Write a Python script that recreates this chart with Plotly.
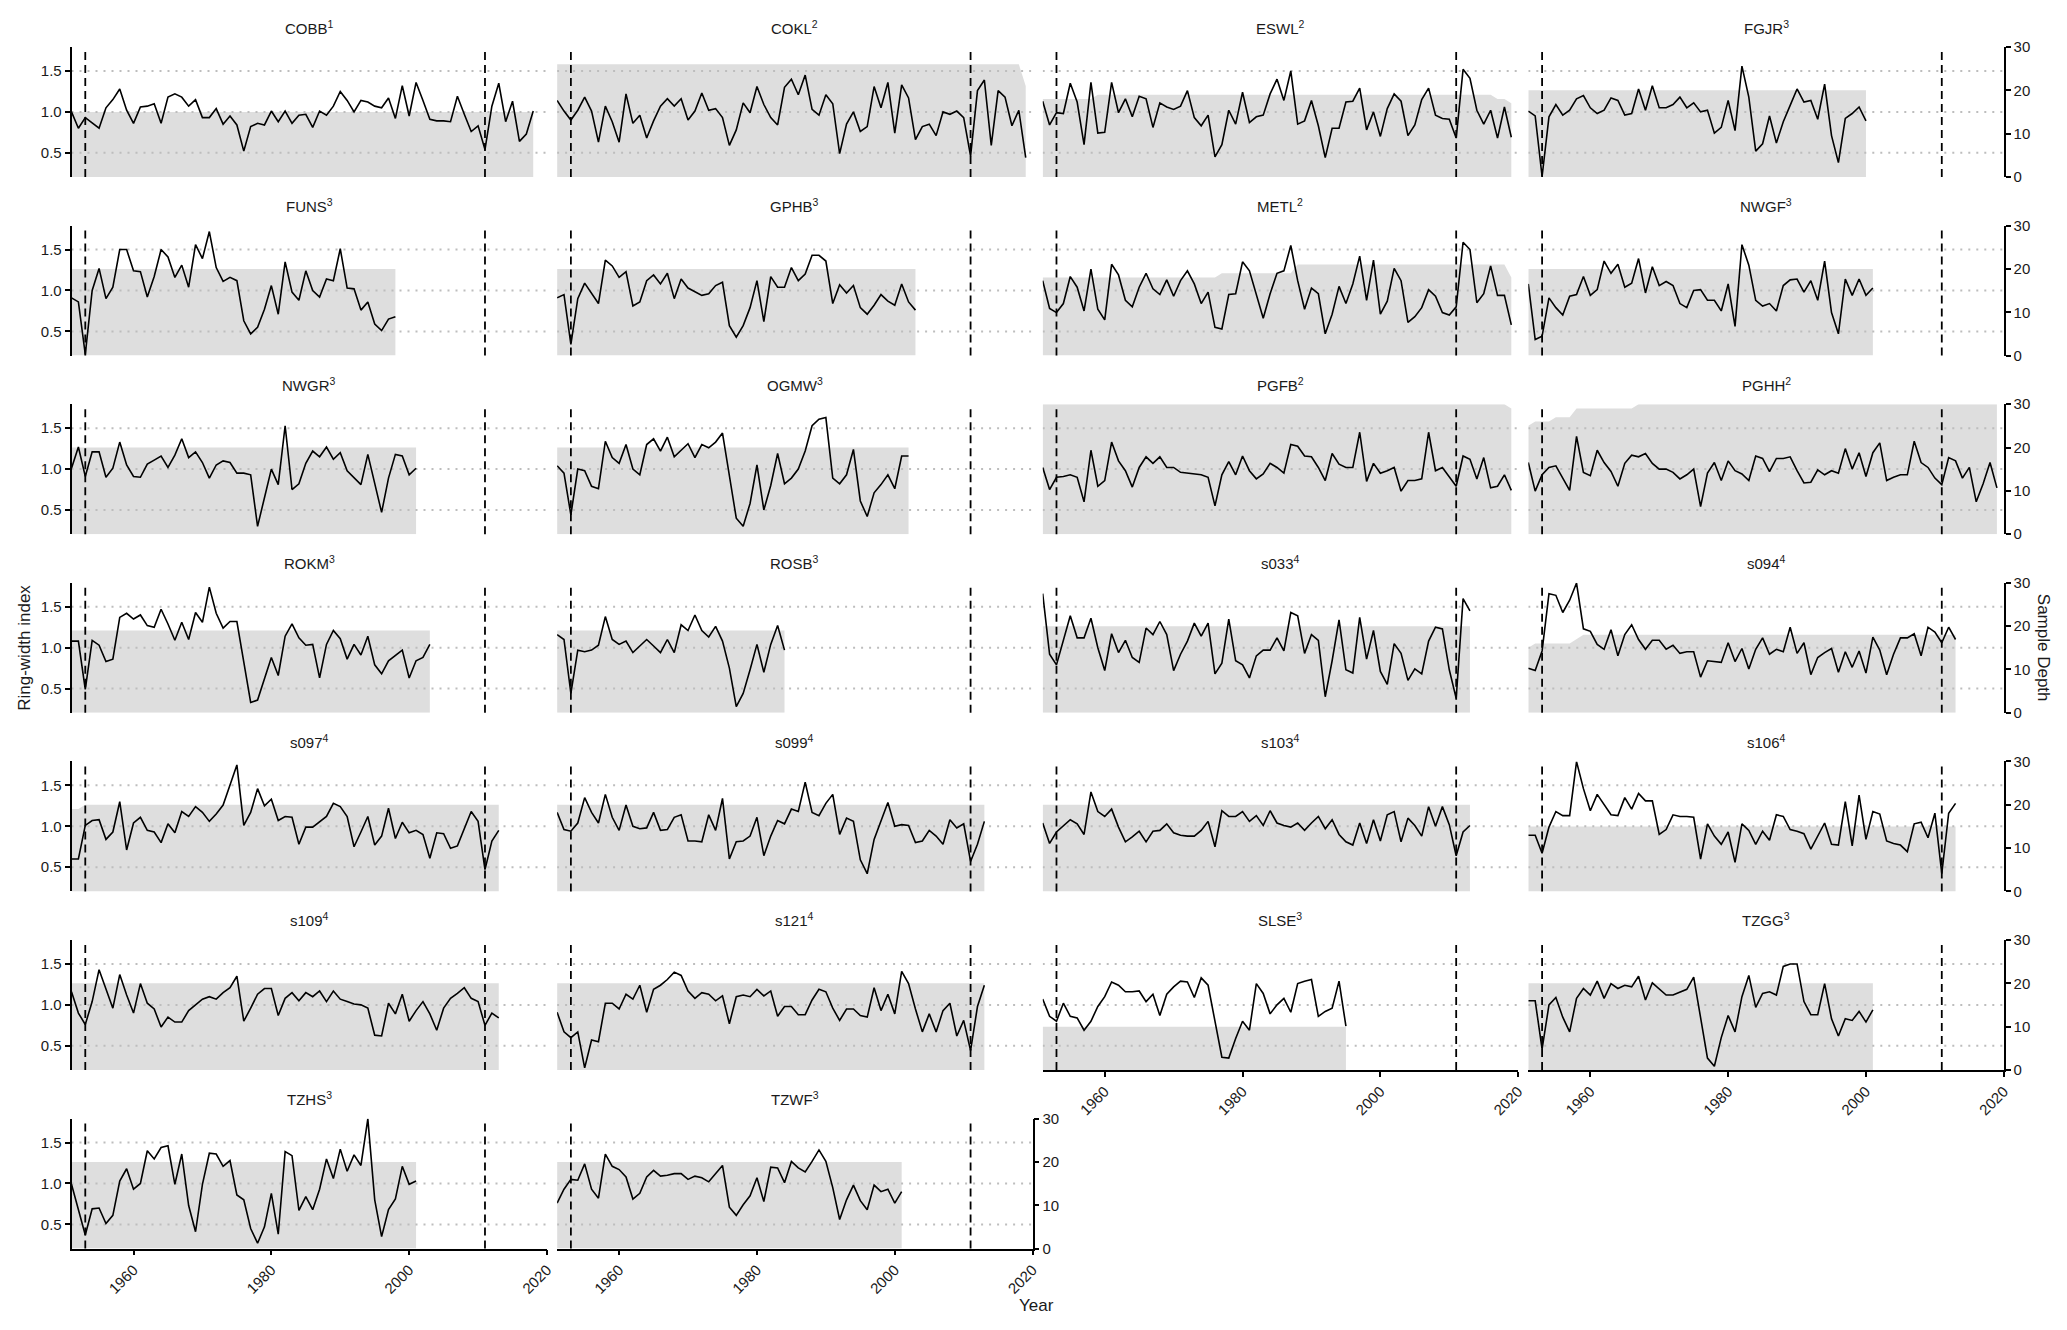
import plotly.graph_objects as go

# --- data -------------------------------------------------------------
SITES = [
    "COBB", "COKL", "ESWL", "FGJR",
    "FUNS", "GPHB", "METL", "NWGF",
    "NWGR", "OGMW", "PGFB", "PGHH",
    "ROKM", "ROSB", "s033", "s094",
    "s097", "s099", "s103", "s106",
    "s109", "s121", "SLSE", "TZGG",
    "TZHS", "TZWF",
]
SOURCES = [
    1, 2, 2, 3,
    3, 3, 2, 3,
    3, 3, 2, 2,
    3, 3, 4, 4,
    4, 4, 4, 4,
    4, 4, 3, 3,
    3, 3,
]
FIRST_YEAR = 1951
YEAR_RANGE = [1951, 2020]
EVENT_YEARS = [1953, 2011]
YEAR_TICKS = [1960, 1980, 2000, 2020]
RWI_TICKS = [0.5, 1.0, 1.5]
RWI_RANGE = [0.204, 1.793]
DEPTH_TICKS = [0, 10, 20, 30]
DEPTH_RANGE = [0, 30]

# ring-width index per site, one value per year from FIRST_YEAR
rwi_cobb = [1.00, 0.80, 0.93, 0.87, 0.80, 1.05, 1.15, 1.28, 1.02, 0.86, 1.06, 1.07, 1.10, 0.86, 1.18, 1.22, 1.18,
            1.07, 1.15, 0.93, 0.93, 1.04, 0.85, 0.95, 0.84, 0.52, 0.82, 0.86, 0.84, 1.01, 0.88, 1.01, 0.86, 0.96,
            0.97, 0.81, 1.01, 0.96, 1.07, 1.25, 1.14, 1.00, 1.14, 1.12, 1.07, 1.05, 1.17, 0.92, 1.32, 0.95, 1.36,
            1.14, 0.91, 0.89, 0.89, 0.88, 1.19, 0.97, 0.76, 0.83, 0.54, 1.07, 1.35, 0.88, 1.13, 0.64, 0.73, 1.01]
rwi_cokl = [1.14, 1.01, 0.90, 1.02, 1.18, 1.01, 0.63, 1.07, 0.88, 0.63, 1.22, 0.86, 0.96, 0.68, 0.89, 1.07, 1.16,
            1.07, 1.16, 0.90, 1.01, 1.23, 1.02, 1.04, 0.93, 0.59, 0.78, 1.11, 0.99, 1.31, 1.09, 0.93, 0.84, 1.30,
            1.40, 1.21, 1.45, 1.03, 0.96, 1.21, 1.10, 0.49, 0.85, 1.00, 0.76, 0.82, 1.31, 1.05, 1.36, 0.74, 1.33,
            1.17, 0.66, 0.82, 0.85, 0.71, 1.00, 0.97, 1.01, 0.93, 0.46, 1.26, 1.39, 0.59, 1.26, 1.18, 0.83, 1.02,
            0.44]
rwi_eswl = [1.13, 0.84, 0.99, 0.98, 1.35, 1.12, 0.60, 1.36, 0.74, 0.75, 1.36, 0.99, 1.16, 0.94, 1.19, 1.16, 0.81,
            1.11, 1.06, 1.03, 1.07, 1.26, 0.93, 0.83, 0.96, 0.45, 0.60, 1.02, 0.85, 1.24, 0.87, 0.94, 0.96, 1.22,
            1.40, 1.14, 1.50, 0.85, 0.89, 1.14, 0.83, 0.44, 0.80, 0.80, 1.12, 1.13, 1.29, 0.78, 1.00, 0.70, 1.04,
            1.22, 1.13, 0.71, 0.84, 1.15, 1.29, 0.96, 0.92, 0.91, 0.68, 1.52, 1.41, 1.02, 0.85, 1.02, 0.68, 1.06,
            0.69]
rwi_fgjr = [1.01, 0.95, 0.21, 0.94, 1.09, 0.96, 1.02, 1.16, 1.20, 1.05, 0.98, 1.02, 1.17, 1.14, 0.96, 0.98, 1.28,
            1.02, 1.32, 1.05, 1.05, 1.09, 1.18, 1.05, 1.11, 1.00, 1.02, 0.74, 0.81, 1.14, 0.77, 1.56, 1.18, 0.52,
            0.61, 0.95, 0.62, 0.88, 1.08, 1.28, 1.12, 1.14, 0.91, 1.34, 0.71, 0.38, 0.92, 0.98, 1.06, 0.89]
rwi_funs = [0.91, 0.86, 0.22, 1.00, 1.27, 0.90, 1.04, 1.50, 1.50, 1.24, 1.23, 0.92, 1.17, 1.50, 1.41, 1.16, 1.31,
            1.04, 1.56, 1.39, 1.72, 1.28, 1.11, 1.16, 1.12, 0.63, 0.47, 0.55, 0.77, 1.06, 0.71, 1.35, 0.98, 0.88,
            1.24, 1.00, 0.92, 1.14, 1.12, 1.51, 1.03, 1.02, 0.76, 0.86, 0.59, 0.51, 0.65, 0.68]
rwi_gphb = [0.91, 0.95, 0.34, 0.90, 1.09, 0.97, 0.84, 1.37, 1.30, 1.16, 1.23, 0.81, 0.86, 1.12, 1.19, 1.08, 1.21,
            0.90, 1.14, 1.03, 0.98, 0.94, 0.96, 1.06, 1.10, 0.57, 0.43, 0.57, 0.79, 1.12, 0.62, 1.17, 1.04, 1.04,
            1.28, 1.12, 1.20, 1.43, 1.43, 1.36, 0.84, 1.07, 0.97, 1.06, 0.79, 0.71, 0.82, 0.95, 0.87, 0.82, 1.08,
            0.86, 0.76]
rwi_metl = [1.12, 0.78, 0.73, 0.84, 1.17, 1.04, 0.75, 1.26, 0.77, 0.64, 1.32, 1.19, 0.88, 0.80, 1.04, 1.21, 1.02,
            0.95, 1.13, 0.93, 1.12, 1.24, 1.08, 0.84, 0.98, 0.55, 0.53, 0.95, 0.96, 1.35, 1.24, 0.96, 0.66, 0.96,
            1.21, 1.24, 1.55, 1.12, 0.77, 1.03, 0.96, 0.47, 0.71, 1.05, 0.84, 1.08, 1.42, 0.88, 1.37, 0.71, 0.87,
            1.27, 1.12, 0.61, 0.68, 0.79, 1.01, 0.93, 0.73, 0.70, 0.80, 1.59, 1.50, 0.85, 0.96, 1.30, 0.94, 0.94,
            0.58]
rwi_nwgf = [1.08, 0.40, 0.44, 0.91, 0.79, 0.70, 0.93, 0.95, 1.17, 0.94, 1.01, 1.36, 1.21, 1.32, 1.04, 1.09, 1.39,
            0.97, 1.29, 1.06, 1.11, 1.06, 0.84, 0.79, 1.00, 1.01, 0.88, 0.88, 0.75, 1.08, 0.56, 1.56, 1.31, 0.88,
            0.81, 0.84, 0.75, 1.06, 1.13, 1.14, 0.98, 1.12, 0.88, 1.36, 0.73, 0.47, 1.14, 0.94, 1.14, 0.94, 1.03]
rwi_nwgr = [1.01, 1.27, 0.91, 1.21, 1.21, 0.90, 1.01, 1.33, 1.05, 0.91, 0.90, 1.06, 1.11, 1.16, 1.02, 1.17, 1.37,
            1.14, 1.21, 1.08, 0.89, 1.05, 1.10, 1.08, 0.95, 0.95, 0.93, 0.30, 0.65, 1.00, 0.81, 1.53, 0.75, 0.82,
            1.07, 1.22, 1.15, 1.27, 1.12, 1.20, 0.98, 0.89, 0.81, 1.18, 0.82, 0.47, 0.89, 1.18, 1.16, 0.93, 1.01]
rwi_ogmw = [1.04, 0.95, 0.44, 1.00, 0.98, 0.79, 0.76, 1.34, 1.14, 1.07, 1.30, 1.00, 0.93, 1.30, 1.37, 1.22, 1.39,
            1.15, 1.23, 1.31, 1.14, 1.30, 1.26, 1.33, 1.44, 0.89, 0.40, 0.30, 0.58, 1.05, 0.50, 0.80, 1.19, 0.82,
            0.89, 1.00, 1.22, 1.53, 1.61, 1.63, 0.89, 0.82, 0.93, 1.24, 0.61, 0.42, 0.71, 0.81, 0.93, 0.76, 1.16,
            1.16]
rwi_pgfb = [1.02, 0.75, 0.90, 0.91, 0.93, 0.90, 0.60, 1.23, 0.79, 0.86, 1.33, 1.10, 0.98, 0.78, 1.02, 1.15, 1.07,
            1.15, 1.02, 1.02, 0.96, 0.95, 0.94, 0.93, 0.90, 0.55, 0.93, 1.09, 0.93, 1.16, 0.98, 0.88, 0.94, 1.07,
            1.02, 0.95, 1.30, 1.28, 1.16, 1.15, 1.02, 0.86, 1.19, 1.06, 1.02, 1.02, 1.45, 0.85, 1.07, 0.95, 0.98,
            1.02, 0.73, 0.86, 0.86, 0.88, 1.45, 0.98, 1.02, 0.91, 0.79, 1.16, 1.12, 0.88, 1.14, 0.77, 0.79, 0.93,
            0.74]
rwi_pghh = [1.08, 0.73, 0.93, 1.02, 1.04, 0.89, 0.74, 1.40, 0.96, 0.92, 1.23, 1.08, 0.97, 0.79, 1.07, 1.17, 1.15,
            1.19, 1.07, 1.00, 1.00, 0.96, 0.88, 0.93, 1.00, 0.54, 0.95, 1.08, 0.86, 1.10, 0.98, 0.94, 0.86, 1.16,
            1.13, 0.97, 1.13, 1.13, 1.15, 0.98, 0.83, 0.84, 0.99, 0.93, 0.98, 0.95, 1.25, 1.00, 1.20, 0.91, 1.20,
            1.32, 0.86, 0.90, 0.93, 0.93, 1.34, 1.08, 1.02, 0.89, 0.81, 1.14, 1.10, 0.89, 1.02, 0.60, 0.82, 1.08,
            0.77]
rwi_rokm = [1.08, 1.08, 0.49, 1.09, 1.03, 0.83, 0.86, 1.37, 1.42, 1.35, 1.40, 1.27, 1.25, 1.47, 1.29, 1.09, 1.31,
            1.10, 1.43, 1.31, 1.74, 1.42, 1.24, 1.32, 1.32, 0.81, 0.33, 0.36, 0.61, 0.88, 0.66, 1.14, 1.29, 1.12,
            1.03, 1.04, 0.63, 1.04, 1.21, 1.11, 0.86, 1.04, 0.91, 1.14, 0.79, 0.68, 0.84, 0.90, 0.97, 0.63, 0.84,
            0.88, 1.04]
rwi_rosb = [1.16, 1.10, 0.44, 0.97, 0.95, 0.97, 1.03, 1.38, 1.10, 1.04, 1.08, 0.94, 1.02, 1.10, 1.02, 0.94, 1.10,
            0.94, 1.28, 1.21, 1.40, 1.21, 1.13, 1.26, 1.08, 0.75, 0.28, 0.44, 0.73, 1.04, 0.70, 1.04, 1.27, 0.97]
rwi_s033 = [1.66, 0.92, 0.79, 1.08, 1.39, 1.12, 1.12, 1.36, 1.00, 0.72, 1.17, 0.94, 1.09, 0.88, 0.82, 1.24, 1.16,
            1.32, 1.16, 0.72, 0.92, 1.08, 1.30, 1.14, 1.30, 0.68, 0.81, 1.35, 0.84, 0.79, 0.63, 0.90, 0.97, 0.97,
            1.12, 0.96, 1.43, 1.39, 0.93, 1.16, 1.09, 0.40, 0.84, 1.34, 0.73, 0.69, 1.37, 0.86, 1.21, 0.71, 0.55,
            1.05, 0.93, 0.60, 0.74, 0.68, 1.08, 1.25, 1.23, 0.73, 0.38, 1.60, 1.45]
rwi_s094 = [0.75, 0.72, 0.96, 1.66, 1.64, 1.43, 1.58, 1.79, 1.23, 1.20, 1.04, 0.98, 1.22, 0.90, 1.16, 1.28, 1.10,
            0.98, 1.09, 1.09, 0.98, 1.03, 0.93, 0.95, 0.95, 0.64, 0.84, 0.83, 0.82, 1.06, 0.83, 0.99, 0.74, 0.98,
            1.12, 0.92, 0.98, 0.95, 1.25, 0.93, 1.06, 0.67, 0.88, 0.94, 0.99, 0.70, 0.95, 0.76, 0.96, 0.69, 1.13,
            0.97, 0.67, 0.92, 1.12, 1.12, 1.17, 0.90, 1.25, 1.19, 1.06, 1.25, 1.10]
rwi_s097 = [0.60, 0.60, 1.01, 1.07, 1.08, 0.84, 0.93, 1.30, 0.71, 1.04, 1.11, 0.95, 0.93, 0.80, 1.03, 0.92, 1.18,
            1.12, 1.24, 1.17, 1.06, 1.15, 1.26, 1.50, 1.75, 1.01, 1.17, 1.46, 1.25, 1.33, 1.07, 1.12, 1.11, 0.78,
            0.99, 0.99, 1.05, 1.12, 1.28, 1.24, 1.12, 0.75, 0.93, 1.12, 0.77, 0.88, 1.22, 0.85, 1.05, 0.92, 0.95,
            0.90, 0.61, 0.92, 0.91, 0.73, 0.76, 0.97, 1.18, 1.06, 0.47, 0.82, 0.95]
rwi_s099 = [1.17, 0.96, 0.94, 1.04, 1.35, 1.17, 1.04, 1.39, 1.11, 0.95, 1.26, 1.00, 0.97, 0.98, 1.17, 0.95, 0.96,
            1.11, 1.14, 0.82, 0.82, 0.81, 1.14, 0.95, 1.34, 0.60, 0.81, 0.82, 0.88, 1.11, 0.64, 0.88, 1.07, 1.03,
            1.21, 1.18, 1.54, 1.17, 1.13, 1.28, 1.39, 0.90, 1.10, 1.06, 0.59, 0.42, 0.84, 1.07, 1.29, 1.00, 1.02,
            1.01, 0.80, 0.82, 0.95, 0.88, 0.78, 1.08, 0.98, 1.03, 0.57, 0.78, 1.06]
rwi_s103 = [1.04, 0.79, 0.93, 1.01, 1.08, 1.03, 0.90, 1.42, 1.18, 1.12, 1.21, 0.99, 0.81, 0.87, 0.94, 0.81, 0.94,
            0.95, 1.03, 0.92, 0.89, 0.88, 0.88, 0.95, 1.06, 0.75, 1.19, 1.12, 1.12, 1.18, 1.06, 1.13, 1.01, 1.19,
            1.04, 1.01, 0.99, 1.04, 0.95, 1.04, 1.12, 0.97, 1.08, 0.90, 0.81, 0.77, 1.04, 0.79, 1.08, 0.82, 1.14,
            1.18, 0.81, 1.10, 1.01, 0.88, 1.24, 1.00, 1.24, 1.02, 0.64, 0.93, 1.01]
rwi_s106 = [0.89, 0.89, 0.67, 0.99, 1.18, 1.13, 1.13, 1.79, 1.46, 1.19, 1.39, 1.26, 1.14, 1.13, 1.35, 1.21, 1.40,
            1.31, 1.31, 0.90, 0.96, 1.14, 1.12, 1.12, 1.11, 0.60, 1.03, 0.88, 0.78, 0.93, 0.56, 1.03, 0.95, 0.78,
            0.94, 0.83, 1.14, 1.12, 0.96, 0.94, 0.91, 0.72, 0.88, 1.04, 0.78, 0.77, 1.30, 0.76, 1.38, 0.84, 1.18,
            1.15, 0.82, 0.79, 0.77, 0.69, 1.03, 1.05, 0.86, 1.16, 0.42, 1.16, 1.28]
rwi_s109 = [1.16, 0.90, 0.76, 1.04, 1.43, 1.20, 0.96, 1.37, 1.12, 0.90, 1.26, 1.02, 0.95, 0.73, 0.85, 0.79, 0.79,
            0.93, 1.00, 1.07, 1.10, 1.07, 1.15, 1.21, 1.35, 0.80, 0.96, 1.13, 1.20, 1.20, 0.87, 1.08, 1.15, 1.05,
            1.15, 1.10, 1.17, 1.04, 1.17, 1.07, 1.04, 1.01, 1.00, 0.96, 0.63, 0.62, 1.02, 0.89, 1.13, 0.80, 0.93,
            1.04, 0.89, 0.69, 0.96, 1.08, 1.14, 1.21, 1.08, 1.04, 0.75, 0.90, 0.84]
rwi_s121 = [0.91, 0.67, 0.60, 0.67, 0.23, 0.57, 0.55, 1.02, 1.02, 0.95, 1.13, 1.07, 1.24, 0.91, 1.19, 1.24, 1.31,
            1.40, 1.36, 1.17, 1.08, 1.15, 1.13, 1.05, 1.11, 0.77, 1.10, 1.12, 1.10, 1.19, 1.11, 1.17, 0.86, 0.98,
            0.98, 0.88, 0.88, 1.06, 1.19, 1.16, 0.96, 0.81, 0.95, 0.95, 0.87, 0.85, 1.21, 0.93, 1.13, 0.89, 1.41,
            1.26, 0.95, 0.67, 0.89, 0.67, 0.93, 1.02, 0.62, 0.81, 0.44, 0.98, 1.24]
rwi_slse = [1.07, 0.86, 0.80, 1.02, 0.86, 0.84, 0.69, 0.80, 0.98, 1.10, 1.28, 1.24, 1.16, 1.16, 1.17, 1.04, 1.13,
            0.87, 1.13, 1.22, 1.29, 1.28, 1.09, 1.33, 1.24, 0.79, 0.36, 0.35, 0.59, 0.80, 0.69, 1.26, 1.14, 0.89,
            1.00, 1.08, 0.91, 1.26, 1.29, 1.31, 0.86, 0.92, 0.96, 1.29, 0.74]
rwi_tzgg = [1.05, 1.05, 0.46, 1.00, 1.09, 0.85, 0.67, 1.08, 1.20, 1.12, 1.29, 1.08, 1.26, 1.20, 1.24, 1.22, 1.35,
            1.06, 1.27, 1.19, 1.12, 1.12, 1.16, 1.19, 1.34, 0.85, 0.35, 0.25, 0.60, 0.87, 0.67, 1.10, 1.36, 0.97,
            1.14, 1.16, 1.12, 1.47, 1.50, 1.50, 1.04, 0.88, 0.88, 1.26, 0.83, 0.62, 0.83, 0.81, 0.92, 0.79, 0.94]
rwi_tzhs = [0.99, 0.68, 0.37, 0.69, 0.70, 0.51, 0.61, 1.03, 1.18, 0.93, 1.00, 1.40, 1.30, 1.44, 1.46, 0.99, 1.36,
            0.73, 0.41, 0.99, 1.37, 1.36, 1.21, 1.28, 0.86, 0.80, 0.45, 0.27, 0.47, 0.88, 0.38, 1.39, 1.34, 0.67,
            0.84, 0.68, 0.93, 1.30, 1.06, 1.42, 1.15, 1.35, 1.22, 1.79, 0.80, 0.35, 0.68, 0.81, 1.21, 0.99, 1.03]
rwi_tzwf = [0.76, 0.93, 1.05, 1.04, 1.24, 0.93, 0.82, 1.36, 1.21, 1.17, 1.08, 0.81, 0.88, 1.08, 1.16, 1.09, 1.10,
            1.12, 1.12, 1.05, 1.09, 1.07, 1.02, 1.12, 1.22, 0.71, 0.61, 0.74, 0.85, 1.07, 0.78, 1.20, 1.19, 1.01,
            1.27, 1.19, 1.14, 1.27, 1.41, 1.27, 0.95, 0.56, 0.80, 0.98, 0.79, 0.68, 0.98, 0.90, 0.93, 0.76, 0.90]

# sample depth per site as (year, depth) points where the depth changes
depth_cobb = [(1951, 15), (2018, 15)]
depth_cokl = [(1951, 26), (2018, 26), (2019, 21)]
depth_eswl = [(1951, 18), (1958, 18), (1959, 19), (2016, 19), (2017, 18), (2018, 18), (2019, 17)]
depth_fgjr = [(1951, 20), (2000, 20)]
depth_funs = [(1951, 20), (1998, 20)]
depth_gphb = [(1951, 20), (2003, 20)]
depth_metl = [(1951, 18), (1976, 18), (1977, 19), (1987, 19), (1988, 21), (2018, 21), (2019, 18)]
depth_nwgf = [(1951, 20), (2001, 20)]
depth_nwgr = [(1951, 20), (2001, 20)]
depth_ogmw = [(1951, 20), (2002, 20)]
depth_pgfb = [(1951, 30), (2018, 30), (2019, 29)]
depth_pghh = [(1951, 25), (1952, 26), (1954, 26), (1955, 27), (1957, 27), (1958, 29), (1966, 29), (1967, 30),
              (2019, 30)]
depth_rokm = [(1951, 19), (2003, 19)]
depth_rosb = [(1951, 19), (1984, 19)]
depth_s033 = [(1951, 20), (2013, 20)]
depth_s094 = [(1951, 15), (1952, 16), (1957, 16), (1959, 18), (2013, 18)]
depth_s097 = [(1951, 19), (1952, 19), (1953, 20), (2013, 20)]
depth_s099 = [(1951, 20), (2013, 20)]
depth_s103 = [(1951, 20), (2013, 20)]
depth_s106 = [(1951, 15), (2013, 15)]
depth_s109 = [(1951, 20), (2013, 20)]
depth_s121 = [(1951, 20), (2013, 20)]
depth_slse = [(1951, 10), (1995, 10)]
depth_tzgg = [(1951, 20), (2001, 20)]
depth_tzhs = [(1951, 20), (2001, 20)]
depth_tzwf = [(1951, 20), (2001, 20)]

series = {
    "COBB": (rwi_cobb, depth_cobb), "COKL": (rwi_cokl, depth_cokl),
    "ESWL": (rwi_eswl, depth_eswl), "FGJR": (rwi_fgjr, depth_fgjr),
    "FUNS": (rwi_funs, depth_funs), "GPHB": (rwi_gphb, depth_gphb),
    "METL": (rwi_metl, depth_metl), "NWGF": (rwi_nwgf, depth_nwgf),
    "NWGR": (rwi_nwgr, depth_nwgr), "OGMW": (rwi_ogmw, depth_ogmw),
    "PGFB": (rwi_pgfb, depth_pgfb), "PGHH": (rwi_pghh, depth_pghh),
    "ROKM": (rwi_rokm, depth_rokm), "ROSB": (rwi_rosb, depth_rosb),
    "s033": (rwi_s033, depth_s033), "s094": (rwi_s094, depth_s094),
    "s097": (rwi_s097, depth_s097), "s099": (rwi_s099, depth_s099),
    "s103": (rwi_s103, depth_s103), "s106": (rwi_s106, depth_s106),
    "s109": (rwi_s109, depth_s109), "s121": (rwi_s121, depth_s121),
    "SLSE": (rwi_slse, depth_slse), "TZGG": (rwi_tzgg, depth_tzgg),
    "TZHS": (rwi_tzhs, depth_tzhs), "TZWF": (rwi_tzwf, depth_tzwf),
}

# --- layout settings (pixels in the 2067x1330 page) -----------------------
FIG_W = 2051
FIG_H = 1312
OFFSET = 8  # default body margin of the html page

COL_LEFT = [71.5, 557.1, 1042.7, 1528.3]
PANEL_W = 475.5
ROW_TOP = [47, 225.6, 404.2, 582.8, 761.4, 940, 1118.6]
PANEL_H = 130

FONT = "Liberation Sans, Arial, sans-serif"
TEXT_COLOR = "#1a1a1a"
FILL_COLOR = "#dedede"
GRID_COLOR = "#bdbdbd"
AXIS_W = 1.6
TICK_SIZE = 15


def px_x(x):
    return (x - OFFSET) / FIG_W


def px_y(y):
    return 1 - (y - OFFSET) / FIG_H


fig = go.Figure()
layout = dict(
    width=FIG_W,
    height=FIG_H,
    autosize=False,
    margin=dict(l=0, r=0, t=0, b=0, pad=0, autoexpand=False),
    paper_bgcolor="white",
    plot_bgcolor="rgba(0,0,0,0)",
    showlegend=False,
    font=dict(family=FONT, size=TICK_SIZE, color=TEXT_COLOR),
)
annotations = []
shapes = []
n_sites = len(SITES)

axis_common = dict(
    showgrid=False,
    zeroline=False,
    automargin=False,
    linecolor="black",
    linewidth=AXIS_W,
    ticklen=5,
    tickwidth=AXIS_W,
    tickcolor="black",
    tickfont=dict(size=TICK_SIZE, color=TEXT_COLOR),
    fixedrange=True,
)

for i, site in enumerate(SITES):
    row, col = divmod(i, 4)
    rwi, depth = series[site]
    years = list(range(FIRST_YEAR, FIRST_YEAR + len(rwi)))

    k = i + 1
    a = 2 * i + 1  # depth axis (drawn underneath)
    b = 2 * i + 2  # ring-width axis (overlay, drawn on top)
    xname = "x" if k == 1 else f"x{k}"
    ya = "y" if a == 1 else f"y{a}"
    yb = f"y{b}"

    left = col == 0
    right = col == 3 or i == n_sites - 1
    bottom = i + 4 >= n_sites

    x0 = px_x(COL_LEFT[col])
    x1 = px_x(COL_LEFT[col] + PANEL_W)
    y1 = px_y(ROW_TOP[row])
    y0 = px_y(ROW_TOP[row] + PANEL_H)

    layout["xaxis" if k == 1 else f"xaxis{k}"] = dict(
        axis_common,
        domain=[x0, x1],
        range=YEAR_RANGE,
        anchor=ya,
        showline=bottom,
        ticks="outside" if bottom else "",
        tickvals=YEAR_TICKS,
        showticklabels=bottom,
        tickangle=-45,
    )
    layout["yaxis" if a == 1 else f"yaxis{a}"] = dict(
        axis_common,
        domain=[y0, y1],
        range=DEPTH_RANGE,
        anchor=xname,
        side="right",
        showline=right,
        ticks="outside" if right else "",
        tickvals=DEPTH_TICKS,
        showticklabels=right,
    )
    layout[f"yaxis{b}"] = dict(
        axis_common,
        overlaying=ya,
        range=RWI_RANGE,
        anchor=xname,
        side="left",
        showline=left,
        ticks="outside" if left else "",
        tickvals=RWI_TICKS,
        ticktext=[f"{v:.1f}" for v in RWI_TICKS],
        showticklabels=left,
    )

    # sample depth as grey area
    fig.add_trace(
        go.Scatter(
            x=[p[0] for p in depth],
            y=[p[1] for p in depth],
            xaxis=xname,
            yaxis=ya,
            mode="lines",
            line=dict(width=0),
            fill="tozeroy",
            fillcolor=FILL_COLOR,
            hoverinfo="skip",
        )
    )

    # dotted reference lines at the ring-width ticks
    gx, gy = [], []
    for v in RWI_TICKS:
        gx += [YEAR_RANGE[0], YEAR_RANGE[1], None]
        gy += [v, v, None]
    fig.add_trace(
        go.Scatter(
            x=gx,
            y=gy,
            xaxis=xname,
            yaxis=yb,
            mode="lines",
            line=dict(color=GRID_COLOR, width=2, dash="2px,6px"),
            hoverinfo="skip",
        )
    )

    # ring-width index
    fig.add_trace(
        go.Scatter(
            x=years,
            y=rwi,
            xaxis=xname,
            yaxis=yb,
            mode="lines",
            line=dict(color="black", width=1.6),
            name=site,
            hovertemplate="%{x}: %{y:.2f}<extra>" + site + "</extra>",
        )
    )

    # event years
    for yr in EVENT_YEARS:
        shapes.append(
            dict(
                type="line",
                xref=xname,
                yref=f"{ya} domain",
                x0=yr,
                x1=yr,
                y0=0,
                y1=1,
                line=dict(color="black", width=1.8, dash="8px,5px"),
            )
        )

    # panel title
    annotations.append(
        dict(
            text=f"{site}<sup>{SOURCES[i]}</sup>",
            x=(x0 + x1) / 2,
            y=px_y(ROW_TOP[row] - 20),
            xref="paper",
            yref="paper",
            xanchor="center",
            yanchor="middle",
            showarrow=False,
            font=dict(size=15, color=TEXT_COLOR),
        )
    )

# axis titles
grid_mid = (ROW_TOP[0] + ROW_TOP[-1] + PANEL_H) / 2
annotations += [
    dict(text="Ring-width index", x=px_x(25), y=px_y(grid_mid), xref="paper", yref="paper",
         xanchor="center", yanchor="middle", textangle=-90, showarrow=False,
         font=dict(size=17, color=TEXT_COLOR)),
    dict(text="Sample Depth", x=px_x(2043), y=px_y(grid_mid), xref="paper", yref="paper",
         xanchor="center", yanchor="middle", textangle=90, showarrow=False,
         font=dict(size=17, color=TEXT_COLOR)),
    dict(text="Year", x=px_x(1036), y=px_y(1305), xref="paper", yref="paper",
         xanchor="center", yanchor="middle", showarrow=False,
         font=dict(size=17, color=TEXT_COLOR)),
]

layout["annotations"] = annotations
layout["shapes"] = shapes
fig.update_layout(**layout)

fig.write_html("out.html")
